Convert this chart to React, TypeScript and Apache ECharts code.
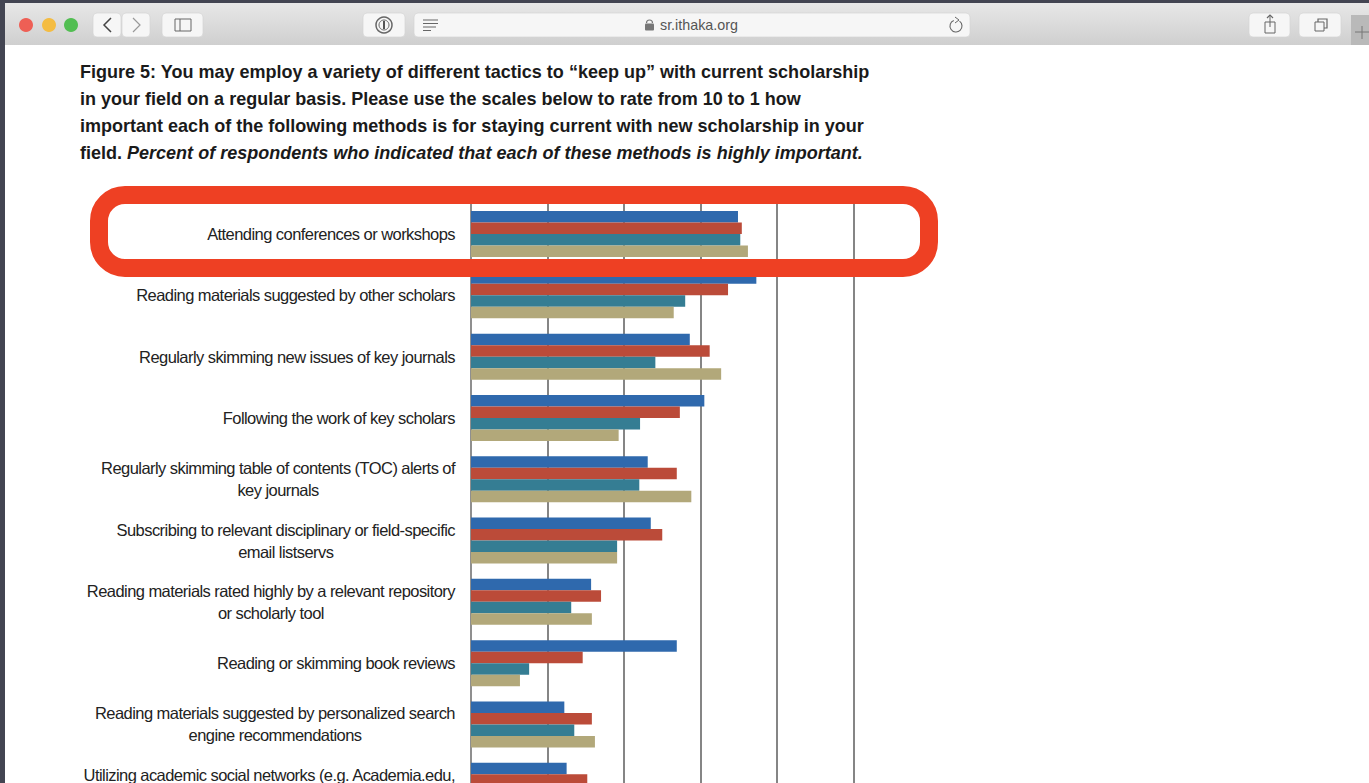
import React, { useEffect, useRef } from "react";
import * as echarts from "echarts";

const categories = [
  "Attending conferences or workshops",
  "Reading materials suggested by other scholars",
  "Regularly skimming new issues of key journals",
  "Following the work of key scholars",
  "Regularly skimming table of contents (TOC) alerts of\nkey journals",
  "Subscribing to relevant disciplinary or field-specific\nemail listservs",
  "Reading materials rated highly by a relevant repository\nor scholarly tool",
  "Reading or skimming book reviews",
  "Reading materials suggested by personalized search\nengine recommendations",
  "Utilizing academic social networks (e.g. Academia.edu,\n ",
];
const seriesA = [34.9, 37.3, 28.6, 30.5, 23.1, 23.5, 15.7, 26.9, 12.2, 12.5];
const seriesB = [35.4, 33.6, 31.2, 27.3, 26.9, 25.0, 17.0, 14.6, 15.8, 15.2];
const seriesC = [35.2, 28.0, 24.1, 22.1, 22.0, 19.1, 13.1, 7.6, 13.5, null];
const seriesD = [36.2, 26.5, 32.7, 19.3, 28.8, 19.1, 15.8, 6.4, 16.2, null];
const colors = ["#2F69AD", "#BB4B39", "#357D93", "#B2A87A"];
const titleLines = [
  "Figure 5: You may employ a variety of different tactics to “keep up” with current scholarship",
  "in your field on a regular basis. Please use the scales below to rate from 10 to 1 how",
  "important each of the following methods is for staying current with new scholarship in your",
];
const titleLast = "field. ";
const titleItalic = "Percent of respondents who indicated that each of these methods is highly important.";
const urlText = "sr.ithaka.org";

const ui = "Liberation Sans, Arial, sans-serif";
const titleFont = 18.03;
const labelFont = 16.5;
const labelSpacing = -0.56;
const labelColor = "#222";

const measureLine = (() => {
  const ctx = document.createElement("canvas").getContext("2d")!;
  ctx.font = `${labelFont}px ${ui}`;
  return (t: string) => ctx.measureText(t).width + labelSpacing * t.length;
})();

// Two-line labels are centred within their block, and the block is right-aligned.
const labelRich: Record<string, any> = {
  first: { fontFamily: ui, fontSize: labelFont, lineHeight: 22, color: labelColor },
};
categories.forEach((c, i) => {
  const parts = c.split("\n");
  if (parts.length === 2) {
    labelRich[`second${i}`] = {
      fontFamily: ui, fontSize: labelFont, lineHeight: 22, color: labelColor,
      padding: [0, Math.max(0, (measureLine(parts[0]) - measureLine(parts[1])) / 2), 0, 0],
    };
  }
});
const formatLabel = (value: string) => {
  const parts = value.split("\n");
  if (parts.length < 2) return value;
  return `{first|${parts[0]}}\n{second${categories.indexOf(value)}|${parts[1]}}`;
};

const btn = (x: number, w: number) => ({
  type: "rect", shape: { x, y: 13, width: w, height: 24, r: 4 },
  style: { fill: "#f6f6f6", stroke: "#d4d4d4", lineWidth: 0.7 }, z: 11,
});
const ln = (x1: number, y1: number, x2: number, y2: number, stroke = "#666", lineWidth = 1) => ({
  type: "line", shape: { x1, y1, x2, y2 }, style: { stroke, lineWidth }, z: 12,
});
const poly = (points: number[][], stroke = "#666", lineWidth = 1.2) => ({
  type: "polyline", shape: { points }, style: { stroke, lineWidth, fill: "none" }, z: 12,
});
const box = (x: number, y: number, width: number, height: number, stroke = "#666", fill = "none") => ({
  type: "rect", shape: { x, y, width, height }, style: { stroke, fill, lineWidth: 1 }, z: 12,
});
const dot = (cx: number, r: number, fill: string) => ({
  type: "circle", shape: { cx, cy: 25, r }, style: { fill }, z: 12,
});

export default function App() {
  const ref = useRef<HTMLDivElement>(null);
  useEffect(() => {
    const chart = echarts.init(ref.current!, null, { renderer: "svg" });
    const data = [seriesA, seriesB, seriesC, seriesD];
    chart.setOption({
      animation: false,
      backgroundColor: "#ffffff",
      grid: { left: 471, top: 203.4, width: 382.5, height: 613 },
      xAxis: {
        type: "value", min: 0, max: 50, interval: 10,
        axisLabel: { show: false }, axisLine: { show: false }, axisTick: { show: false },
        splitLine: { show: true, lineStyle: { color: "#858585", width: 2 } },
      },
      yAxis: {
        type: "category", inverse: true, data: categories,
        axisTick: { show: false },
        axisLine: { show: true, lineStyle: { color: "#8f8f8f", width: 2 } },
        axisLabel: {
          interval: 0, margin: 16, align: "right", color: labelColor,
          fontFamily: ui, fontSize: labelFont, lineHeight: 22,
          formatter: formatLabel, rich: labelRich,
        },
      },
      series: data.map((d, i) => ({
        type: "bar", data: d, barGap: 0, barCategoryGap: "25%",
        itemStyle: { color: colors[i] }, silent: true,
      })),
      graphic: [
        { type: "rect", shape: { x: 0, y: 0, width: 1369, height: 45 }, z: 10,
          style: { fill: new echarts.graphic.LinearGradient(0, 0, 0, 1, [
            { offset: 0, color: "#e9e9e9" }, { offset: 1, color: "#cfcfcf" }]) } },
        { type: "rect", shape: { x: 0, y: 0, width: 1369, height: 3 }, style: { fill: "#434552" }, z: 11 },
        { type: "rect", shape: { x: 0, y: 0, width: 5, height: 783 }, style: { fill: "#434552" }, z: 11 },
        { type: "rect", shape: { x: 1351, y: 15, width: 18, height: 30 }, style: { fill: "#b9b9b9" }, z: 11 },
        ln(1355, 32, 1369, 32, "#777"), ln(1362, 26, 1362, 39, "#777"),
        dot(26, 7, "#EE5F55"), dot(49, 7, "#F4BC42"), dot(71, 7, "#52BE52"),
        btn(93, 28), btn(122, 28), btn(162, 41), btn(363, 42),
        { type: "rect", shape: { x: 414, y: 13, width: 556, height: 24, r: 4 },
          style: { fill: "#f6f6f6", stroke: "#d4d4d4", lineWidth: 0.7 }, z: 11 },
        btn(1249, 41), btn(1299, 42),
        poly([[111, 18], [104, 25], [111, 32]], "#444", 1.5),
        poly([[133, 18], [140, 25], [133, 32]], "#999", 1.2),
        box(175, 19, 16, 12), ln(180, 19, 180, 31),
        { type: "circle", shape: { cx: 384, cy: 25, r: 8 }, style: { fill: "none", stroke: "#666", lineWidth: 1.5 }, z: 12 },
        { type: "circle", shape: { cx: 384, cy: 25, r: 5 }, style: { fill: "none", stroke: "#666", lineWidth: 1 }, z: 12 },
        ln(384, 21, 384, 29, "#555", 2),
        ln(423, 20, 438, 20), ln(423, 23.5, 438, 23.5), ln(423, 27, 436, 27), ln(423, 30.5, 431, 30.5),
        { type: "rect", shape: { x: 645, y: 23.5, width: 9, height: 7, r: 1 }, style: { fill: "#777" }, z: 12 },
        { type: "arc", shape: { cx: 649.5, cy: 23, r: 3, startAngle: Math.PI, endAngle: 0 }, style: { stroke: "#777", fill: "none", lineWidth: 1.2 }, z: 12 },
        { type: "text", x: 660, y: 18, z: 12, style: { text: urlText, font: `14.3px ${ui}`, fill: "#555" } },
        { type: "arc", shape: { cx: 956, cy: 26, r: 6, startAngle: -Math.PI * 0.3, endAngle: -Math.PI * 0.62 }, style: { stroke: "#666", fill: "none", lineWidth: 1.1 }, z: 12 },
        poly([[955, 17], [959, 20], [955, 23]], "#666", 1),
        box(1265, 22, 10, 11), ln(1270, 15, 1270, 27), poly([[1267, 18], [1270, 15], [1273, 18]]),
        box(1315, 22, 9, 9), poly([[1318, 22], [1318, 19], [1327, 19], [1327, 28], [1324, 28]]),
        ...titleLines.map((t, i) => ({
          type: "text", x: 80, y: 63 + i * 27, z: 12,
          style: { text: t, font: `bold ${titleFont}px ${ui}`, fill: "#1a1a1a" },
        })),
        { type: "text", x: 80, y: 144, z: 12,
          style: {
            text: `{a|${titleLast}}{b|${titleItalic}}`,
            rich: {
              a: { font: `bold ${titleFont}px ${ui}`, fill: "#1a1a1a" },
              b: { font: `italic bold ${titleFont}px ${ui}`, fill: "#1a1a1a" },
            },
          } },
        { type: "rect", shape: { x: 99, y: 195, width: 830, height: 73, r: 26 }, z: 13,
          style: { fill: "none", stroke: "#EE4023", lineWidth: 18 } },
      ],
    });
    return () => chart.dispose();
  }, []);
  return (
    <div style={{ position: "fixed", inset: 0, width: 1369, height: 783, overflow: "hidden", background: "#fff" }}>
      <style>{`text[style*="${labelFont}px"] { letter-spacing: ${labelSpacing}px; }`}</style>
      <div ref={ref} style={{ width: 1369, height: 860 }} />
    </div>
  );
}
